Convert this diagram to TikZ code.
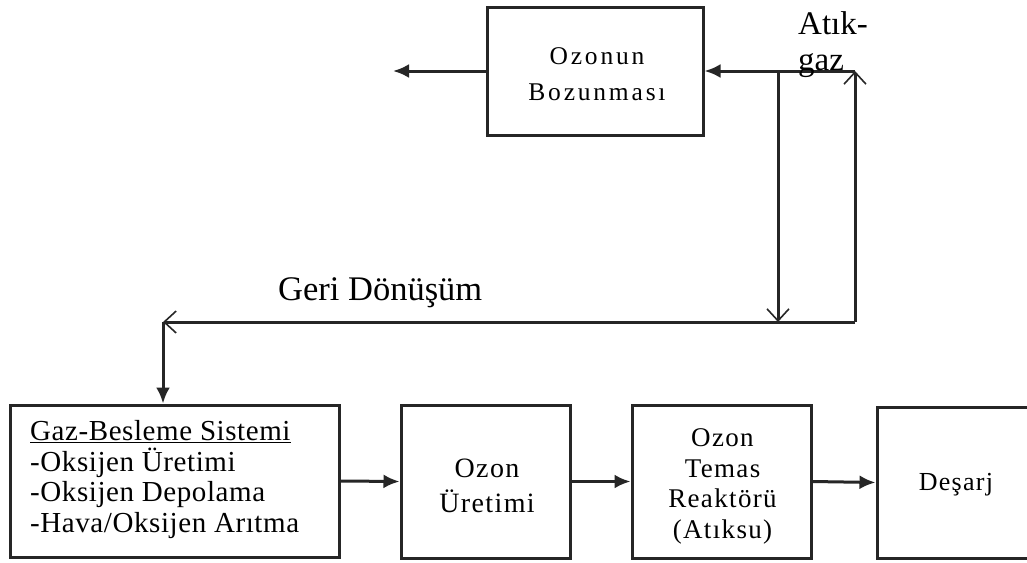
\documentclass[tikz,border=0pt]{standalone}
\usepackage{fontspec}
\setmainfont{Liberation Serif}
\newfontfamily\topfont[LetterSpace=11]{Liberation Serif}
\newfontfamily\boxfont[LetterSpace=5]{Liberation Serif}
\newfontfamily\wfont[LetterSpace=2]{Liberation Serif}
\usetikzlibrary{arrows.meta}
\begin{document}
\begin{tikzpicture}[x=1pt,y=-1pt,
  box/.style={draw=black!85, line width=3pt, inner sep=0pt},
  ln/.style={draw=black!85, line width=3pt},
  fa/.style={-{Latex[length=16pt,width=14pt]}},
  oa/.style={-{Straight Barb[length=12pt,width=22pt,line width=1.6pt]}},
  txt/.style={inner sep=0pt, text=black}
]
\useasboundingbox (0,0) rectangle (1027,562);
\fill[white] (0,0) rectangle (1027,562);
% boxes
\node[box, minimum width=216pt, minimum height=128pt] (oz) at (595,71) {};
\node[box, minimum width=329pt, minimum height=152pt] (b1) at (174.5,481) {};
\node[box, minimum width=169pt, minimum height=153pt] (b2) at (485.5,481.5) {};
\node[box, minimum width=179pt, minimum height=153pt] (b3) at (721.5,481.5) {};
\node[box, minimum width=163pt, minimum height=151pt] (b4) at (958.5,482.5) {};
% coordinates
\coordinate (lt) at (393,71);
\coordinate (tr) at (855,71);
\coordinate (tm) at (778,71);
\coordinate (br) at (855,322);
\coordinate (bm) at (778,322);
\coordinate (bl) at (163,322);
% connectors
\draw[ln,fa] (oz.west) -- (lt);
\draw[ln,fa] (tr) -- (oz.east);
\draw[ln,oa] (br) -- (tr);
\draw[ln,oa] (tm) -- (bm);
\draw[ln,oa] (br) -- (bl);
\draw[ln,fa] (bl) -- (b1.north -| bl);
\draw[ln,fa] (b1.east) -- (b2.west);
\draw[ln,fa] (b2.east) -- (b3.west);
\draw[ln,fa] (b3.east) -- (b4.west);
% texts (base anchor = baseline of the last line)
\node[txt, anchor=base, align=center, font=\topfont\fontsize{25.5}{36}\selectfont] (ozt) at (597,100) {Ozonun\\Bozunması};
\node[txt, anchor=base west, align=left, font=\wfont\fontsize{29}{30.5}\selectfont] (b1t) at (30,532) {\underline{Gaz-Besleme Sistemi}\\-Oksijen Üretimi\\-Oksijen Depolama\\-Hava/Oksijen Arıtma};
\node[txt, anchor=base, align=center, font=\boxfont\fontsize{28}{35}\selectfont] (b2t) at (487,512) {Ozon\\Üretimi};
\node[txt, anchor=base, align=center, font=\boxfont\fontsize{27}{30.5}\selectfont] (b3t) at (722.5,538) {Ozon\\Temas\\Reaktörü\\(Atıksu)};
\node[txt, anchor=base, font=\boxfont\fontsize{26}{30}\selectfont] (b4t) at (956,490) {Deşarj};
\node[txt, anchor=base west, align=left, font=\fontsize{33}{36}\selectfont] (atik) at (798,70) {Atık-\\gaz};
\node[txt, anchor=base west, font=\fontsize{34.5}{36}\selectfont] (geri) at (278,300) {Geri Dönüşüm};
\end{tikzpicture}
\end{document}
